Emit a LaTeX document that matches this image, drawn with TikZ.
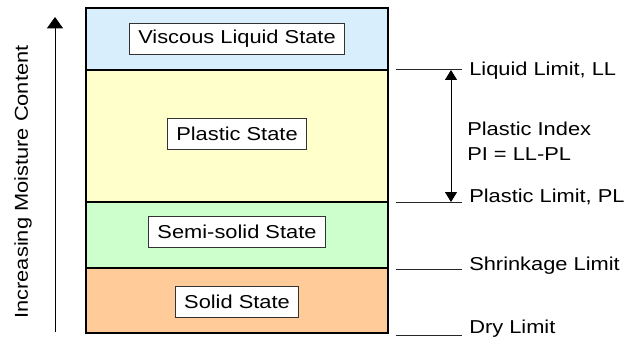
\documentclass[tikz,border=0pt]{standalone}
\usepackage{fontspec}
\setmainfont{Liberation Sans}[FakeStretch=1.17]
\usepackage{tikz}
\usetikzlibrary{
	arrows.meta,
	positioning
}
\definecolor{azulliq}{HTML}{D9EEFC}
\definecolor{amareloplas}{HTML}{FFFFCC}
\definecolor{verdesemi}{HTML}{CCFFCC}
\definecolor{laranjasol}{HTML}{FFCC99}

\begin{document}
\begin{tikzpicture}[
			x=0.75pt, y=-0.75pt,
			font=\fontsize{14}{18.75}\selectfont,
			camada/.style={
					draw,
					line width=1.6pt
				},
			estado/.style={
					draw=black!80,
					fill=white,
					line width=0.7pt,
					minimum height=23pt,
					inner xsep=6.75pt
				},
			limite/.style={draw=black!85, line width=0.75pt},
			rotulo/.style={anchor=base west, inner sep=0pt},
			seta/.style={line width=0.75pt}
		]
		\useasboundingbox (0,0) rectangle (624,342);

		\draw[camada, fill=azulliq] (86,8) rectangle (388,70);
		\draw[camada, fill=amareloplas] (86,70) rectangle (388,202);
		\draw[camada, fill=verdesemi] (86,202) rectangle (388,268);
		\draw[camada, fill=laranjasol] (86,268) rectangle (388,333);

		\node[estado] (s1) at (237,39) {Viscous Liquid State};
		\node[estado] (s2) at (237,134) {Plastic State};
		\node[estado] (s3) at (237,232) {Semi-solid State};
		\node[estado] (s4) at (237,302) {Solid State};

		\coordinate (a1) at (396,70);  \coordinate (b1) at (462,70);
		\coordinate (a2) at (396,202); \coordinate (b2) at (462,202);
		\coordinate (a3) at (396,269); \coordinate (b3) at (462,269);
		\coordinate (a4) at (396,335); \coordinate (b4) at (462,335);
		\draw[limite] (a1) -- (b1);
		\draw[limite] (a2) -- (b2);
		\draw[limite] (a3) -- (b3);
		\draw[limite] (a4) -- (b4);

		\node[anchor=west, inner sep=0pt] (l1) at (469,71) {Liquid Limit, LL};
		\node[rotulo] (l2) at (469,202) {Plastic Limit, PL};
		\node[rotulo] (l3) at (469,270) {Shrinkage Limit};
		\node[rotulo] (l4) at (469,333) {Dry Limit};

		\coordinate (p1) at (451,70);
		\coordinate (p2) at (451,202);
		\draw[seta, {Triangle[length=7.5pt, width=9pt]}-{Triangle[length=7.5pt, width=9pt]}] (p1) -- (p2);
		\node[anchor=west, align=left, inner sep=0pt] (ip) at (467,141) {Plastic Index\\PI = LL-PL};

		\coordinate (m0) at (55,332);
		\coordinate (m1) at (55,17);
		\draw[seta, -{Triangle[length=8.5pt, width=12pt]}] (m0) -- (m1);
		\node[rotate=90] (umidade) at (23,182) {Increasing Moisture Content};
	\end{tikzpicture}
\end{document}
